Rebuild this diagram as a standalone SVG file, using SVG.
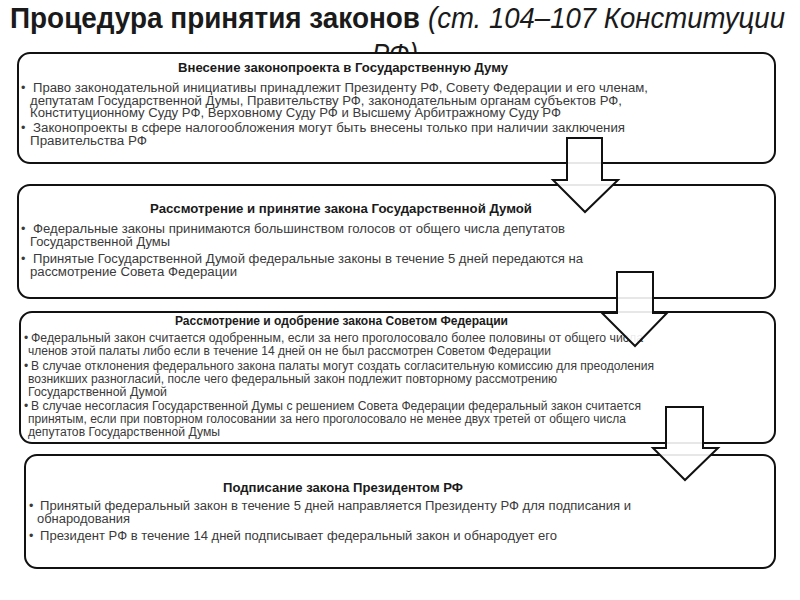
<svg xmlns="http://www.w3.org/2000/svg" width="800" height="600" viewBox="0 0 800 600">
<style>
.box{fill:#fff;stroke:#111;stroke-width:2}
.h{font-family:"Liberation Sans",Arial,sans-serif;font-weight:bold;font-size:12px;fill:#1a1a1a;text-anchor:start}
.t{font-family:"Liberation Sans",Arial,sans-serif;font-size:12.5px;fill:#3a3a3a}
.t3{font-family:"Liberation Sans",Arial,sans-serif;font-size:12px;fill:#3a3a3a}
.arr{fill:#fff;fill-opacity:0.9;stroke:#111;stroke-width:2;stroke-linejoin:miter}
.ttl{font-family:"Liberation Sans",Arial,sans-serif;font-size:30px;fill:#1a1a1a}
</style>
<rect width="800" height="600" fill="#fff"/>
<g id="title">
<text class="ttl" x="10" y="28" font-weight="bold" textLength="410" lengthAdjust="spacingAndGlyphs">Процедура принятия законов</text>
<text class="ttl" x="428" y="28" font-style="italic" textLength="357" lengthAdjust="spacingAndGlyphs">(ст. 104–107 Конституции</text>
<text class="ttl" x="372" y="64" font-style="italic" textLength="46" lengthAdjust="spacingAndGlyphs">РФ)</text>
</g>
<g id="node1">
<rect class="box" x="18" y="53" width="757" height="110" rx="12"/>
<text class="h" x="178" y="72" textLength="330" lengthAdjust="spacingAndGlyphs">Внесение законопроекта в Государственную Думу</text>
<text class="t" x="21" y="92">•</text>
<text class="t" x="33" y="92" textLength="615" lengthAdjust="spacingAndGlyphs">Право законодательной инициативы принадлежит Президенту РФ, Совету Федерации и его членам,</text>
<text class="t" x="30" y="104.5" textLength="592" lengthAdjust="spacingAndGlyphs">депутатам Государственной Думы, Правительству РФ, законодательным органам субъектов РФ,</text>
<text class="t" x="30" y="117" textLength="531" lengthAdjust="spacingAndGlyphs">Конституционному Суду РФ, Верховному Суду РФ и Высшему Арбитражному Суду РФ</text>
<text class="t" x="21" y="132">•</text>
<text class="t" x="33" y="132" textLength="592" lengthAdjust="spacingAndGlyphs">Законопроекты в сфере налогообложения могут быть внесены только при наличии заключения</text>
<text class="t" x="30" y="145" textLength="117" lengthAdjust="spacingAndGlyphs">Правительства РФ</text>
</g>
<g id="node2">
<rect class="box" x="18" y="185" width="757" height="113" rx="12"/>
<text class="h" x="150" y="213" textLength="382" lengthAdjust="spacingAndGlyphs">Рассмотрение и принятие  закона Государственной Думой</text>
<text class="t" x="21" y="233">•</text>
<text class="t" x="33" y="233" textLength="532" lengthAdjust="spacingAndGlyphs">Федеральные законы принимаются большинством голосов от общего числа депутатов</text>
<text class="t" x="30" y="246" textLength="140" lengthAdjust="spacingAndGlyphs">Государственной Думы</text>
<text class="t" x="21" y="263">•</text>
<text class="t" x="33" y="263" textLength="550" lengthAdjust="spacingAndGlyphs">Принятые Государственной Думой федеральные законы в течение 5 дней передаются на</text>
<text class="t" x="30" y="276" textLength="207" lengthAdjust="spacingAndGlyphs">рассмотрение Совета Федерации</text>
</g>
<g id="node3">
<rect class="box" x="20" y="312" width="755" height="131" rx="12"/>
<text class="h" x="175" y="325" textLength="333" lengthAdjust="spacingAndGlyphs">Рассмотрение и одобрение закона Советом Федерации</text>
<text class="t3" x="24" y="342">•</text>
<text class="t3" x="31" y="342" textLength="612" lengthAdjust="spacingAndGlyphs">Федеральный закон считается одобренным, если за него проголосовало более половины от общего числа</text>
<text class="t3" x="28" y="355" textLength="523" lengthAdjust="spacingAndGlyphs">членов этой палаты либо если в течение 14 дней он не был рассмотрен Советом Федерации</text>
<text class="t3" x="24" y="370">•</text>
<text class="t3" x="31" y="370" textLength="623" lengthAdjust="spacingAndGlyphs">В случае отклонения федерального закона палаты могут создать согласительную комиссию для преодоления</text>
<text class="t3" x="28" y="383" textLength="529" lengthAdjust="spacingAndGlyphs">возникших разногласий, после чего федеральный закон подлежит повторному рассмотрению</text>
<text class="t3" x="28" y="396" textLength="139" lengthAdjust="spacingAndGlyphs">Государственной Думой</text>
<text class="t3" x="24" y="410">•</text>
<text class="t3" x="31" y="410" textLength="610" lengthAdjust="spacingAndGlyphs">В случае несогласия Государственной Думы с решением Совета Федерации федеральный закон считается</text>
<text class="t3" x="28" y="423" textLength="598" lengthAdjust="spacingAndGlyphs">принятым, если при повторном голосовании за него проголосовало не менее двух третей от общего числа</text>
<text class="t3" x="28" y="436" textLength="192" lengthAdjust="spacingAndGlyphs">депутатов Государственной Думы</text>
</g>
<g id="node4">
<rect class="box" x="25" y="455" width="750" height="113" rx="12"/>
<text class="h" x="223" y="492" textLength="240" lengthAdjust="spacingAndGlyphs">Подписание закона Президентом РФ</text>
<text class="t" x="29" y="510">•</text>
<text class="t" x="40" y="510" textLength="591" lengthAdjust="spacingAndGlyphs">Принятый федеральный закон в течение 5 дней направляется Президенту РФ для подписания и</text>
<text class="t" x="37" y="523" textLength="93" lengthAdjust="spacingAndGlyphs">обнародования</text>
<text class="t" x="29" y="540">•</text>
<text class="t" x="40" y="540" textLength="517" lengthAdjust="spacingAndGlyphs">Президент РФ в течение 14 дней подписывает федеральный закон и обнародует его</text>
</g>
<g id="connectors">
<polygon class="arr" points="567,138 602,138 602,180 618,180 585,212 553,180 567,180"/>
<polygon class="arr" points="617,272 653,272 653,313 667,313 635,346 602,313 617,313"/>
<polygon class="arr" points="666,407 703,407 703,448 718,448 685,480 653,448 666,448"/>
</g>
</svg>
